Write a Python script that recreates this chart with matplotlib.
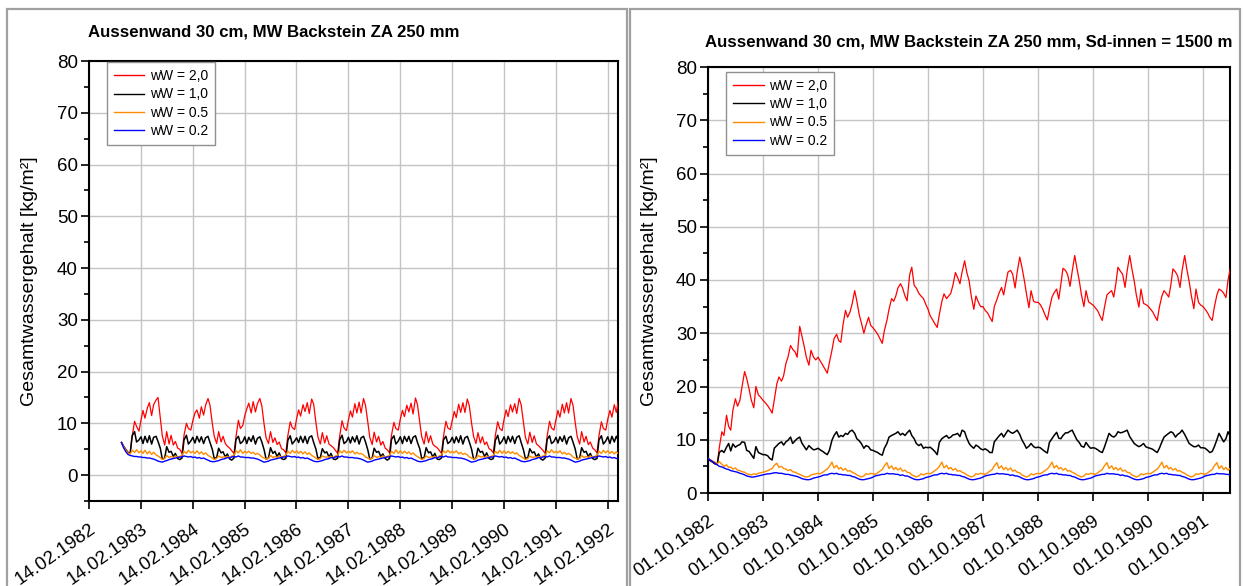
import matplotlib
matplotlib.use("Agg")
import matplotlib.pyplot as plt
import matplotlib.dates as mdates
from matplotlib.patches import Rectangle
from matplotlib.ticker import MultipleLocator
from datetime import datetime
import pandas as pd

plt.rcParams["font.family"] = ["Liberation Sans", "DejaVu Sans"]

# ---------------------------------------------------------------------------
# Series: total water content [kg/m2], semi-monthly values from 01.10.1982
# (one row per hydrological year Oct..Sep)
# ---------------------------------------------------------------------------
labels = ["wW = 2,0", "wW = 1,0", "wW = 0.5", "wW = 0.2"]
colors = ["#ff0000", "#000000", "#ff8c00", "#0000ff"]
widths = [0.9, 1.1, 1.0, 1.0]

title_left = "Aussenwand 30 cm, MW Backstein ZA 250 mm"
title_right = "Aussenwand 30 cm, MW Backstein ZA 250 mm, Sd-innen = 1500 m"
ylabel = "Gesamtwassergehalt [kg/m²]"

# --- left chart ------------------------------------------------------------
left_red = [
    6.3, 5.6, 4.9, 4.4, 4.3, 7.5, 10.4, 9.4, 8.5, 10.6, 12.5, 11.0, 13.0, 14.0, 11.5, 13.6, 14.5, 15.0, 11.0, 7.6, 5.8, 8.4, 6.0, 7.7,
    5.8, 6.5, 5.2, 5.0, 4.2, 7.7, 10.0, 9.0, 8.7, 10.5, 12.0, 12.6, 11.0, 13.2, 11.6, 13.5, 14.8, 13.5, 10.0, 7.5, 6.1, 8.4, 6.4, 7.5,
    6.1, 5.6, 5.2, 4.7, 4.2, 7.4, 10.6, 9.0, 9.6, 11.5, 12.8, 13.9, 12.0, 14.2, 12.2, 13.8, 14.8, 13.4, 9.8, 7.2, 6.1, 8.4, 6.3, 7.2,
    5.9, 6.4, 5.1, 4.9, 4.3, 7.6, 10.3, 9.2, 8.8, 10.9, 12.6, 11.4, 13.6, 12.3, 14.0, 11.9, 14.7, 13.7, 10.1, 7.4, 6.0, 8.2, 6.2, 7.6,
    6.0, 5.7, 5.3, 4.8, 4.2, 7.5, 10.5, 9.1, 8.6, 10.7, 12.4, 11.2, 13.8, 12.0, 14.1, 12.0, 14.8, 13.5, 10.3, 7.3, 5.9, 8.3, 6.4, 7.5,
    5.8, 6.5, 5.2, 4.9, 4.3, 7.7, 10.2, 9.0, 8.7, 10.8, 12.5, 11.3, 13.5, 12.2, 13.9, 11.8, 14.9, 13.6, 10.2, 7.4, 6.0, 8.4, 6.3, 7.6,
    6.0, 5.6, 5.3, 4.8, 4.2, 7.4, 10.4, 9.1, 8.8, 10.6, 12.3, 11.1, 13.7, 12.1, 14.0, 12.1, 14.7, 13.4, 10.0, 7.5, 6.1, 8.2, 6.2, 7.4,
    5.9, 6.4, 5.1, 4.9, 4.3, 7.6, 10.3, 9.0, 8.6, 10.8, 12.6, 11.3, 13.6, 12.2, 13.8, 11.9, 14.8, 13.6, 10.2, 7.3, 6.0, 8.3, 6.3, 7.6,
    6.0, 5.7, 5.2, 4.8, 4.2, 7.5, 10.4, 9.1, 8.7, 10.7, 12.5, 11.2, 13.7, 12.0, 14.0, 12.0, 14.8, 13.5, 10.1, 7.4, 6.0, 8.4, 6.4, 7.5,
    5.9, 6.4, 5.2, 4.9, 4.3, 7.6, 10.3, 9.0, 8.7, 10.8, 12.5, 11.2, 13.6, 12.1, 14.5,
]
left_black = [
    6.3, 5.6, 4.9, 4.4, 4.2, 7.6, 8.4, 6.4, 6.8, 7.4, 6.1, 7.5, 6.3, 7.6, 6.0, 7.3, 7.5, 6.5, 5.2, 3.1, 3.3, 5.5, 4.4, 4.6,
    3.6, 4.2, 3.2, 3.0, 3.3, 6.8, 7.7, 6.0, 6.6, 7.3, 6.2, 7.5, 6.4, 7.4, 6.1, 7.2, 7.5, 6.3, 5.0, 3.2, 3.4, 5.2, 4.3, 4.5,
    3.5, 4.1, 3.1, 2.9, 3.3, 6.9, 7.5, 6.1, 6.5, 7.4, 6.1, 7.3, 6.5, 7.6, 6.0, 7.1, 7.4, 6.4, 4.9, 3.1, 3.3, 5.3, 4.2, 4.6,
    3.6, 4.3, 3.2, 3.0, 3.2, 6.7, 7.6, 6.0, 6.6, 7.2, 6.3, 7.5, 6.3, 7.5, 6.1, 7.3, 7.6, 6.3, 5.0, 3.2, 3.4, 5.1, 4.3, 4.5,
    3.5, 4.2, 3.1, 3.0, 3.3, 6.8, 7.7, 6.1, 6.5, 7.3, 6.2, 7.4, 6.4, 7.6, 6.0, 7.2, 7.5, 6.4, 4.9, 3.1, 3.3, 5.2, 4.4, 4.6,
    3.6, 4.1, 3.2, 2.9, 3.2, 6.9, 7.6, 6.0, 6.6, 7.4, 6.1, 7.5, 6.5, 7.5, 6.1, 7.3, 7.6, 6.3, 5.1, 3.2, 3.4, 5.3, 4.3, 4.5,
    3.5, 4.2, 3.1, 3.0, 3.3, 6.8, 7.5, 6.1, 6.5, 7.3, 6.2, 7.4, 6.3, 7.6, 6.0, 7.2, 7.5, 6.4, 5.0, 3.1, 3.3, 5.2, 4.4, 4.6,
    3.6, 4.3, 3.2, 3.0, 3.2, 6.7, 7.7, 6.0, 6.6, 7.4, 6.1, 7.5, 6.4, 7.5, 6.1, 7.3, 7.6, 6.3, 4.9, 3.2, 3.4, 5.1, 4.3, 4.5,
    3.5, 4.1, 3.1, 2.9, 3.3, 6.9, 7.6, 6.1, 6.5, 7.3, 6.2, 7.4, 6.5, 7.6, 6.0, 7.2, 7.5, 6.4, 5.0, 3.1, 3.3, 5.3, 4.4, 4.6,
    3.6, 4.2, 3.2, 3.0, 3.2, 6.8, 7.6, 6.0, 6.6, 7.4, 6.1, 7.5, 6.4, 7.5, 6.6,
]
left_orange = [
    6.3, 5.5, 4.8, 4.3, 4.1, 4.8, 4.4, 4.9, 4.3, 4.7, 4.2, 4.8, 4.1, 4.6, 4.0, 4.4, 3.9, 3.7, 3.4, 3.0, 3.2, 3.8, 3.4, 3.6,
    3.4, 3.7, 3.5, 3.6, 3.8, 4.6, 4.2, 4.8, 4.3, 4.6, 4.2, 4.7, 4.1, 4.5, 4.0, 4.3, 3.8, 3.6, 3.3, 3.0, 3.2, 3.7, 3.4, 3.5,
    3.5, 3.6, 3.4, 3.7, 3.8, 4.7, 4.3, 4.9, 4.2, 4.6, 4.3, 4.6, 4.2, 4.4, 4.0, 4.2, 3.9, 3.5, 3.3, 3.1, 3.2, 3.8, 3.4, 3.6,
    3.4, 3.7, 3.5, 3.6, 3.9, 4.6, 4.2, 4.8, 4.3, 4.7, 4.2, 4.6, 4.1, 4.5, 4.0, 4.3, 3.8, 3.6, 3.3, 3.0, 3.2, 3.7, 3.5, 3.5,
    3.5, 3.6, 3.4, 3.7, 3.8, 4.7, 4.3, 4.8, 4.3, 4.6, 4.3, 4.7, 4.1, 4.4, 4.1, 4.2, 3.9, 3.5, 3.3, 3.1, 3.2, 3.8, 3.4, 3.6,
    3.4, 3.7, 3.5, 3.6, 3.8, 4.6, 4.2, 4.9, 4.2, 4.7, 4.2, 4.6, 4.2, 4.5, 4.0, 4.3, 3.8, 3.6, 3.3, 3.0, 3.2, 3.7, 3.4, 3.5,
    3.5, 3.6, 3.4, 3.7, 3.9, 4.7, 4.3, 4.8, 4.3, 4.6, 4.3, 4.7, 4.1, 4.4, 4.0, 4.2, 3.9, 3.5, 3.3, 3.1, 3.2, 3.8, 3.5, 3.6,
    3.4, 3.7, 3.5, 3.6, 3.8, 4.6, 4.2, 4.8, 4.2, 4.7, 4.2, 4.6, 4.2, 4.5, 4.1, 4.3, 3.8, 3.6, 3.3, 3.0, 3.2, 3.7, 3.4, 3.5,
    3.5, 3.6, 3.4, 3.7, 3.8, 4.7, 4.3, 4.9, 4.3, 4.6, 4.3, 4.7, 4.1, 4.4, 4.0, 4.2, 3.9, 3.5, 3.3, 3.1, 3.2, 3.8, 3.4, 3.6,
    3.4, 3.7, 3.5, 3.6, 3.8, 4.6, 4.2, 4.8, 4.3, 4.7, 4.2, 4.6, 4.1, 4.5, 4.1,
]
left_blue = [
    6.3, 5.3, 4.5, 4.0, 3.8, 3.7, 3.6, 3.6, 3.5, 3.5, 3.4, 3.4, 3.3, 3.3, 3.2, 3.1, 2.9, 2.7, 2.6, 2.5, 2.7, 2.8, 3.0, 3.1,
    3.2, 3.3, 3.4, 3.5, 3.5, 3.7, 3.6, 3.5, 3.6, 3.4, 3.5, 3.3, 3.4, 3.2, 3.3, 3.1, 2.9, 2.7, 2.6, 2.6, 2.7, 2.8, 3.0, 3.1,
    3.2, 3.4, 3.3, 3.5, 3.6, 3.5, 3.7, 3.5, 3.5, 3.4, 3.4, 3.4, 3.3, 3.3, 3.2, 3.1, 2.9, 2.7, 2.5, 2.6, 2.7, 2.9, 3.0, 3.1,
    3.2, 3.3, 3.4, 3.5, 3.5, 3.7, 3.6, 3.5, 3.6, 3.4, 3.5, 3.3, 3.4, 3.2, 3.3, 3.1, 2.9, 2.7, 2.6, 2.6, 2.7, 2.8, 3.0, 3.1,
    3.2, 3.4, 3.3, 3.5, 3.6, 3.5, 3.7, 3.5, 3.5, 3.4, 3.4, 3.4, 3.3, 3.3, 3.2, 3.1, 2.9, 2.7, 2.5, 2.6, 2.7, 2.9, 3.0, 3.1,
    3.2, 3.3, 3.4, 3.5, 3.5, 3.7, 3.6, 3.5, 3.6, 3.4, 3.5, 3.3, 3.4, 3.2, 3.3, 3.1, 2.9, 2.7, 2.6, 2.6, 2.7, 2.8, 3.0, 3.1,
    3.2, 3.4, 3.3, 3.5, 3.6, 3.5, 3.7, 3.5, 3.5, 3.4, 3.4, 3.4, 3.3, 3.3, 3.2, 3.1, 2.9, 2.7, 2.5, 2.6, 2.7, 2.9, 3.0, 3.1,
    3.2, 3.3, 3.4, 3.5, 3.5, 3.7, 3.6, 3.5, 3.6, 3.4, 3.5, 3.3, 3.4, 3.2, 3.3, 3.1, 2.9, 2.7, 2.6, 2.6, 2.7, 2.8, 3.0, 3.1,
    3.2, 3.4, 3.3, 3.5, 3.6, 3.5, 3.7, 3.5, 3.5, 3.4, 3.4, 3.4, 3.3, 3.3, 3.2, 3.1, 2.9, 2.7, 2.5, 2.6, 2.7, 2.9, 3.0, 3.1,
    3.2, 3.3, 3.4, 3.5, 3.5, 3.7, 3.6, 3.5, 3.6, 3.4, 3.5, 3.3, 3.4, 3.2, 3.3,
]

# --- right chart (Sd-innen = 1500 m) --------------------------------------
right_red = [
    6.5, 6.1, 5.8, 5.5, 5.3, 8.5, 11.5, 10.8, 14.6, 12.5, 11.8, 15.5, 17.7, 16.3, 17.4, 20.0, 22.8, 21.5, 19.5, 17.5, 16.0, 20.0, 18.4, 18.0,
    17.4, 17.0, 16.4, 15.8, 15.0, 17.5, 20.5, 21.8, 21.0, 22.0, 24.3, 25.5, 27.7, 27.0, 26.5, 25.5, 31.3, 29.5, 27.5, 25.5, 24.0, 26.8, 25.5, 25.0,
    25.5, 24.8, 24.0, 23.3, 22.5, 24.5, 26.8, 29.0, 29.8, 28.6, 28.3, 31.5, 34.3, 33.0, 34.0, 35.5, 38.0, 36.1, 33.5, 32.0, 30.0, 31.5, 33.0, 31.5,
    31.0, 30.5, 29.8, 29.0, 28.1, 30.5, 32.4, 34.5, 36.5, 36.0, 37.0, 38.5, 39.3, 38.5, 37.0, 36.1, 41.0, 42.4, 39.0, 38.5, 37.5, 37.0, 36.5, 35.5,
    34.5, 33.3, 32.5, 31.8, 31.1, 33.5, 36.0, 37.4, 36.5, 37.0, 37.5, 39.0, 41.4, 40.5, 39.3, 41.5, 43.6, 41.5, 39.8, 37.0, 34.5, 37.0, 35.8, 35.0,
    35.0, 34.3, 33.8, 33.0, 32.2, 35.0, 36.3, 37.5, 38.6, 37.2, 39.5, 41.5, 41.8, 41.1, 38.5, 41.5, 44.3, 42.5, 40.0, 37.5, 34.8, 38.0, 36.0, 35.8,
    35.8, 35.4, 34.5, 33.5, 32.5, 34.6, 36.8, 37.6, 38.3, 36.4, 39.2, 42.2, 41.8, 41.0, 38.8, 41.6, 44.6, 42.3, 39.9, 37.3, 35.0, 38.0, 35.9, 35.6,
    35.3, 34.8, 34.2, 33.3, 32.4, 34.8, 37.2, 37.6, 38.0, 36.8, 39.3, 42.4, 41.6, 41.1, 38.6, 41.7, 44.6, 42.2, 39.8, 37.2, 34.9, 38.3, 35.6, 35.4,
    35.1, 34.6, 34.0, 33.2, 32.4, 34.9, 37.0, 38.0, 37.4, 36.8, 39.0, 42.1, 41.5, 40.8, 38.6, 41.8, 44.6, 42.1, 39.7, 37.1, 34.6, 38.3, 35.8, 35.3,
    35.0, 34.5, 33.8, 33.0, 32.4, 34.9, 37.2, 38.3, 38.0, 37.5, 36.7, 40.0, 42.4,
]
right_black = [
    6.5, 6.1, 5.8, 5.5, 5.4, 7.6, 8.0, 7.6, 8.6, 9.3, 7.9, 9.2, 8.6, 8.9, 9.1, 9.6, 9.5, 8.0, 7.8, 7.2, 6.5, 8.7, 7.6, 7.4,
    7.2, 7.2, 7.0, 6.5, 6.2, 8.4, 8.9, 9.3, 9.6, 9.0, 9.6, 9.9, 10.5, 9.3, 9.8, 10.2, 10.5, 9.4, 8.7, 8.1, 8.9, 8.5, 8.1, 8.2,
    8.4, 8.1, 7.8, 7.5, 7.2, 8.0, 9.9, 10.8, 11.5, 10.5, 10.8, 10.6, 11.2, 11.0, 11.6, 11.8, 11.2, 10.2, 9.8, 9.3, 8.4, 8.9, 8.7, 8.1,
    8.0, 7.8, 7.6, 7.3, 7.1, 8.4, 9.3, 10.5, 10.8, 11.0, 11.2, 11.5, 10.9, 11.2, 10.8, 11.3, 11.8, 10.8, 10.2, 9.3, 8.9, 9.2, 8.4, 8.6,
    8.5, 8.6, 8.2, 7.8, 7.2, 9.5, 10.2, 10.5, 10.8, 10.3, 10.5, 10.9, 11.0, 11.2, 10.6, 11.8, 11.5, 10.3, 9.3, 8.8, 8.4, 9.0, 8.7, 8.3,
    8.1, 8.3, 8.0, 7.6, 7.6, 9.6, 10.2, 10.7, 11.2, 10.5, 11.2, 11.8, 11.4, 11.2, 11.5, 11.8, 11.0, 10.0, 9.2, 8.4, 8.8, 9.3, 8.7, 8.5,
    8.6, 8.5, 8.1, 7.8, 7.5, 9.5, 10.2, 10.8, 11.4, 10.3, 10.2, 10.8, 11.3, 11.3, 11.6, 11.8, 10.8, 10.0, 9.5, 8.8, 8.6, 9.5, 8.8, 8.4,
    8.5, 8.4, 8.1, 7.8, 7.6, 8.6, 10.0, 11.2, 10.7, 10.5, 10.8, 11.5, 11.3, 11.4, 11.6, 11.8, 10.6, 10.0, 9.3, 9.0, 8.7, 8.9, 9.3, 8.7,
    8.5, 8.4, 8.2, 7.9, 7.6, 8.4, 9.6, 10.5, 10.9, 11.2, 11.5, 11.3, 10.5, 11.0, 11.3, 11.8, 11.0, 10.2, 9.3, 9.0, 8.7, 8.7, 9.0, 8.5,
    8.5, 8.4, 8.0, 7.6, 7.8, 8.7, 10.0, 11.2, 10.3, 9.6, 10.2, 11.5, 10.5,
]
right_orange = [
    6.5, 6.3, 6.0, 5.8, 5.5, 5.9, 5.4, 5.0, 5.3, 4.8, 4.9, 4.5, 4.7, 4.3, 4.2, 4.0, 3.9, 3.6, 3.5, 3.4, 3.6, 3.5, 3.7, 3.8,
    3.9, 4.0, 4.2, 4.4, 4.6, 5.2, 5.6, 4.8, 5.0, 4.6, 4.5, 4.2, 4.4, 4.0, 3.9, 3.7, 3.5, 3.3, 3.1, 3.0, 3.1, 3.4, 3.5, 3.6,
    3.7, 3.6, 3.9, 4.2, 4.5, 5.0, 5.8, 4.7, 5.2, 4.5, 4.8, 4.3, 4.6, 4.1, 4.2, 3.9, 3.7, 3.4, 3.2, 3.0, 3.2, 3.6, 3.5, 3.7,
    3.6, 3.5, 3.8, 4.1, 4.4, 5.1, 5.7, 4.6, 5.1, 4.4, 4.8, 4.3, 4.7, 4.1, 4.3, 3.9, 3.8, 3.4, 3.2, 3.0, 3.2, 3.6, 3.4, 3.6,
    3.7, 3.6, 3.9, 4.2, 4.5, 5.0, 5.8, 4.7, 5.2, 4.5, 4.8, 4.3, 4.6, 4.1, 4.2, 3.9, 3.7, 3.4, 3.2, 3.0, 3.2, 3.6, 3.5, 3.7,
    3.6, 3.5, 3.8, 4.1, 4.4, 5.1, 5.7, 4.6, 5.1, 4.4, 4.8, 4.3, 4.7, 4.1, 4.3, 3.9, 3.8, 3.4, 3.2, 3.0, 3.2, 3.6, 3.4, 3.6,
    3.7, 3.6, 3.9, 4.2, 4.5, 5.0, 5.8, 4.7, 5.2, 4.5, 4.8, 4.3, 4.6, 4.1, 4.2, 3.9, 3.7, 3.4, 3.2, 3.0, 3.2, 3.6, 3.5, 3.7,
    3.6, 3.5, 3.8, 4.1, 4.4, 5.1, 5.7, 4.6, 5.1, 4.4, 4.8, 4.3, 4.7, 4.1, 4.3, 3.9, 3.8, 3.4, 3.2, 3.0, 3.2, 3.6, 3.4, 3.6,
    3.7, 3.6, 3.9, 4.2, 4.5, 5.0, 5.8, 4.7, 5.2, 4.5, 4.8, 4.3, 4.6, 4.1, 4.2, 3.9, 3.7, 3.4, 3.2, 3.0, 3.2, 3.6, 3.5, 3.7,
    3.6, 3.5, 3.8, 4.1, 4.4, 5.1, 5.7, 4.6, 5.1, 4.4, 4.8, 4.3, 4.7,
]
right_blue = [
    6.5, 6.2, 5.9, 5.6, 5.3, 5.0, 4.9, 4.7, 4.5, 4.4, 4.2, 4.1, 4.0, 3.9, 3.7, 3.6, 3.4, 3.2, 3.1, 3.0, 3.0, 3.1, 3.2, 3.3,
    3.4, 3.5, 3.6, 3.6, 3.7, 3.8, 3.8, 3.7, 3.7, 3.6, 3.5, 3.5, 3.4, 3.3, 3.2, 3.1, 2.9, 2.7, 2.6, 2.5, 2.5, 2.6, 2.8, 2.9,
    3.0, 3.1, 3.3, 3.4, 3.4, 3.6, 3.7, 3.6, 3.7, 3.5, 3.5, 3.4, 3.4, 3.3, 3.3, 3.1, 3.0, 2.8, 2.6, 2.5, 2.5, 2.6, 2.7, 2.8,
    3.0, 3.2, 3.3, 3.4, 3.5, 3.5, 3.7, 3.6, 3.6, 3.6, 3.5, 3.5, 3.3, 3.4, 3.2, 3.2, 3.0, 2.8, 2.6, 2.5, 2.5, 2.6, 2.7, 2.9,
    3.0, 3.1, 3.3, 3.4, 3.4, 3.6, 3.7, 3.6, 3.7, 3.5, 3.5, 3.4, 3.4, 3.3, 3.3, 3.1, 3.0, 2.8, 2.6, 2.5, 2.5, 2.6, 2.7, 2.8,
    3.0, 3.2, 3.3, 3.4, 3.5, 3.5, 3.7, 3.6, 3.6, 3.6, 3.5, 3.5, 3.3, 3.4, 3.2, 3.2, 3.0, 2.8, 2.6, 2.5, 2.5, 2.6, 2.7, 2.9,
    3.0, 3.1, 3.3, 3.4, 3.4, 3.6, 3.7, 3.6, 3.7, 3.5, 3.5, 3.4, 3.4, 3.3, 3.3, 3.1, 3.0, 2.8, 2.6, 2.5, 2.5, 2.6, 2.7, 2.8,
    3.0, 3.2, 3.3, 3.4, 3.5, 3.5, 3.7, 3.6, 3.6, 3.6, 3.5, 3.5, 3.3, 3.4, 3.2, 3.2, 3.0, 2.8, 2.6, 2.5, 2.5, 2.6, 2.7, 2.9,
    3.0, 3.1, 3.3, 3.4, 3.4, 3.6, 3.7, 3.6, 3.7, 3.5, 3.5, 3.4, 3.4, 3.3, 3.3, 3.1, 3.0, 2.8, 2.6, 2.5, 2.5, 2.6, 2.7, 2.8,
    3.0, 3.2, 3.3, 3.4, 3.5, 3.5, 3.7, 3.6, 3.6, 3.6, 3.5, 3.5, 3.3,
]

left_series = [left_red, left_black, left_orange, left_blue]
right_series = [right_red, right_black, right_orange, right_blue]

left_ticks = [datetime(y, 2, 14) for y in range(1982, 1993)]
right_ticks = [datetime(y, 10, 1) for y in range(1982, 1992)]

W, H = 1243, 586
fig = plt.figure(figsize=(W / 100, H / 100), dpi=100)
fig.patch.set_facecolor("white")


def px_box(x0, y0, x1, y1):
    """pixel box (top-left origin) -> figure fraction [l, b, w, h]"""
    return [x0 / W, 1 - y1 / H, (x1 - x0) / W, (y1 - y0) / H]


# panel frames
for x0, x1 in [(7, 627), (630, 1240)]:
    fig.add_artist(Rectangle((x0 / W, -0.01), (x1 - x0) / W, (H - 9) / H + 0.01,
                             transform=fig.transFigure, fill=False,
                             edgecolor="#a0a0a0", linewidth=1.6))


def style_axes(ax, series, ticks, xlim, ylim, title, tx, ty, lx, legend_anchor):
    dates = pd.date_range("1982-10-01", periods=max(len(s) for s in series), freq="SMS")
    for vals, col, lab, lw in zip(series, colors, labels, widths):
        ax.plot(dates[:len(vals)], vals, color=col, linewidth=lw, label=lab, zorder=3)
    ax.set_xlim(*xlim)
    ax.set_ylim(*ylim)
    ax.yaxis.set_major_locator(MultipleLocator(10))
    ax.yaxis.set_minor_locator(MultipleLocator(5))
    ax.set_xticks(ticks)
    ax.xaxis.set_major_formatter(mdates.DateFormatter("%d.%m.%Y"))
    ax.grid(True, which="major", color="#c4c4c4", linewidth=1.0, zorder=0)
    for sp in ax.spines.values():
        sp.set_linewidth(1.5)
        sp.set_color("black")
    ax.tick_params(axis="both", which="major", length=6, width=1.2, labelsize=13.5)
    ax.tick_params(axis="y", which="minor", length=3.5, width=1.2)
    ax.tick_params(axis="y", which="major", pad=2)
    ax.tick_params(axis="x", which="major", pad=8)
    for lbl in ax.get_xticklabels():
        lbl.set_rotation(35)
        lbl.set_ha("right")
        lbl.set_va("top")
        lbl.set_rotation_mode("anchor")
    fig.text(lx / W, 1 - 281 / H, ylabel, fontsize=14, rotation=90,
             ha="center", va="center")
    fig.text(tx / W, 1 - ty / H, title, fontsize=12.1, fontweight="bold",
             ha="left", va="center")
    leg = ax.legend(loc="upper left", bbox_to_anchor=legend_anchor, fontsize=10,
                    frameon=True, fancybox=False, framealpha=1, edgecolor="#909090",
                    handlelength=2.2, handletextpad=0.4, labelspacing=0.3,
                    borderpad=0.5, borderaxespad=0)
    leg.get_frame().set_linewidth(1.0)
    for h in leg.get_lines():
        h.set_linewidth(1.0)


axL = fig.add_axes(px_box(89, 61, 618, 501))
style_axes(axL, left_series, left_ticks,
           (datetime(1982, 2, 14), datetime(1992, 4, 27)), (-5, 80),
           title_left, 88, 32, 30, (0.034, 0.997))

axR = fig.add_axes(px_box(708, 67, 1230, 493))
style_axes(axR, right_series, right_ticks,
           (datetime(1982, 10, 1), datetime(1992, 3, 28)), (0, 80),
           title_right, 705, 42, 649, (0.0345, 0.988))

fig.savefig("out.png", dpi=100, facecolor="white")
